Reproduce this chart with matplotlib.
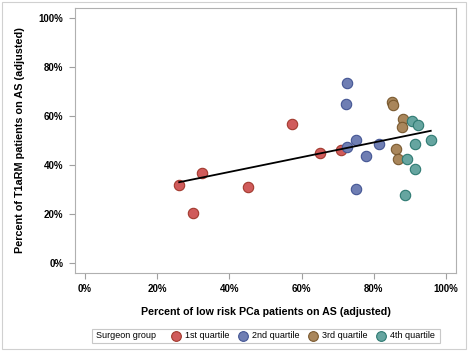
import matplotlib
matplotlib.use("Agg")
import matplotlib.pyplot as plt
from matplotlib.lines import Line2D
from matplotlib.patches import Rectangle
from matplotlib.ticker import FuncFormatter

# ---------------------------------------------------------------------------
# Data (percent)
# ---------------------------------------------------------------------------
q1_x = [26.1, 30.0, 32.3, 45.3, 57.3, 65.1, 70.8]
q1_y = [31.8, 20.3, 36.5, 31.1, 56.8, 44.8, 46.1]

q2_x = [72.5, 72.2, 75.0, 72.5, 81.6, 78.0, 75.2]
q2_y = [73.3, 64.9, 50.1, 47.4, 48.6, 43.7, 30.2]

q3_x = [85.0, 85.3, 88.1, 87.7, 86.3, 86.6]
q3_y = [65.7, 64.3, 58.6, 55.6, 46.3, 42.3]

q4_x = [90.6, 92.2, 96.0, 91.5, 89.3, 91.5, 88.6]
q4_y = [58.0, 56.1, 50.3, 48.6, 42.5, 38.4, 27.5]

fit_x = [26.1, 95.8]
fit_y = [32.9, 53.9]

group_labels = ["1st quartile", "2nd quartile", "3rd quartile", "4th quartile"]
ticks = [0, 20, 40, 60, 80, 100]

FILLS = ["#D05B5B", "#6F7EB3", "#A9865B", "#66A5A0"]
EDGES = ["#A23A2E", "#445694", "#7A5A30", "#2E7A72"]

plt.rcParams["font.family"] = ["Liberation Sans", "DejaVu Sans"]

fig = plt.figure(figsize=(4.68, 3.51), dpi=100)
W, H = 468, 351
ax = fig.add_axes([75 / W, 1 - 272.7 / H, (456 - 75) / W, (272.7 - 8) / H])

groups = [(q1_x, q1_y), (q2_x, q2_y), (q3_x, q3_y), (q4_x, q4_y)]
for (gx, gy), fc, ec in zip(groups, FILLS, EDGES):
    ax.scatter(gx, gy, s=56, facecolor=fc, edgecolor=ec, linewidth=0.8,
               zorder=3)
ax.plot(fit_x, fit_y, color="black", linewidth=1.3, zorder=4)

ax.set_xlim(-2.77, 102.8)
ax.set_ylim(-4.09, 104.1)
ax.set_xticks(ticks)
ax.set_yticks(ticks)
pct = FuncFormatter(lambda v, _: f"{v:.0f}%")
ax.xaxis.set_major_formatter(pct)
ax.yaxis.set_major_formatter(pct)
ax.tick_params(length=4.3, width=0.8, color="#A0A0A0", pad=4,
               labelsize=7, labelcolor="black")
for lab in ax.get_xticklabels() + ax.get_yticklabels():
    lab.set_fontweight("bold")
for sp in ax.spines.values():
    sp.set_color("#B0B0B0")
    sp.set_linewidth(0.8)

ax.set_xlabel("Percent of low risk PCa patients on AS (adjusted)",
              fontsize=7.7, fontweight="bold", labelpad=9.5)
ax.set_ylabel("Percent of T1aRM patients on AS (adjusted)",
              fontsize=7.8, fontweight="bold", labelpad=10)

# legend drawn in figure pixels
def px(x, y):
    return x / W, 1 - y / H

box_x0, box_y0, box_x1, box_y1 = 91.7, 329.3, 440, 342.7
fig.patches.append(Rectangle(px(box_x0, box_y1), (box_x1 - box_x0) / W,
                             (box_y1 - box_y0) / H, transform=fig.transFigure,
                             facecolor="white", edgecolor="#C8C8C8",
                             linewidth=0.8))
ymid = (box_y0 + box_y1) / 2
fig.text(*px(96, ymid), "Surgeon group", fontsize=6.5, va="center", ha="left")
marker_x = [175.7, 242.7, 312.7, 381]
for mx, label, fc, ec in zip(marker_x, group_labels, FILLS, EDGES):
    fig.add_artist(Line2D([mx / W], [1 - ymid / H], marker="o", markersize=7,
                          markerfacecolor=fc, markeredgecolor=ec,
                          markeredgewidth=0.8, transform=fig.transFigure))
    fig.text(*px(mx + 9, ymid), label, fontsize=6.5, va="center", ha="left")

# outer frame
fig.patches.append(Rectangle((2 / W, 2 / H), (W - 4) / W, (H - 4) / H,
                             transform=fig.transFigure, facecolor="none",
                             edgecolor="#D0D0D0", linewidth=0.8))

fig.savefig("out.png", dpi=100)
